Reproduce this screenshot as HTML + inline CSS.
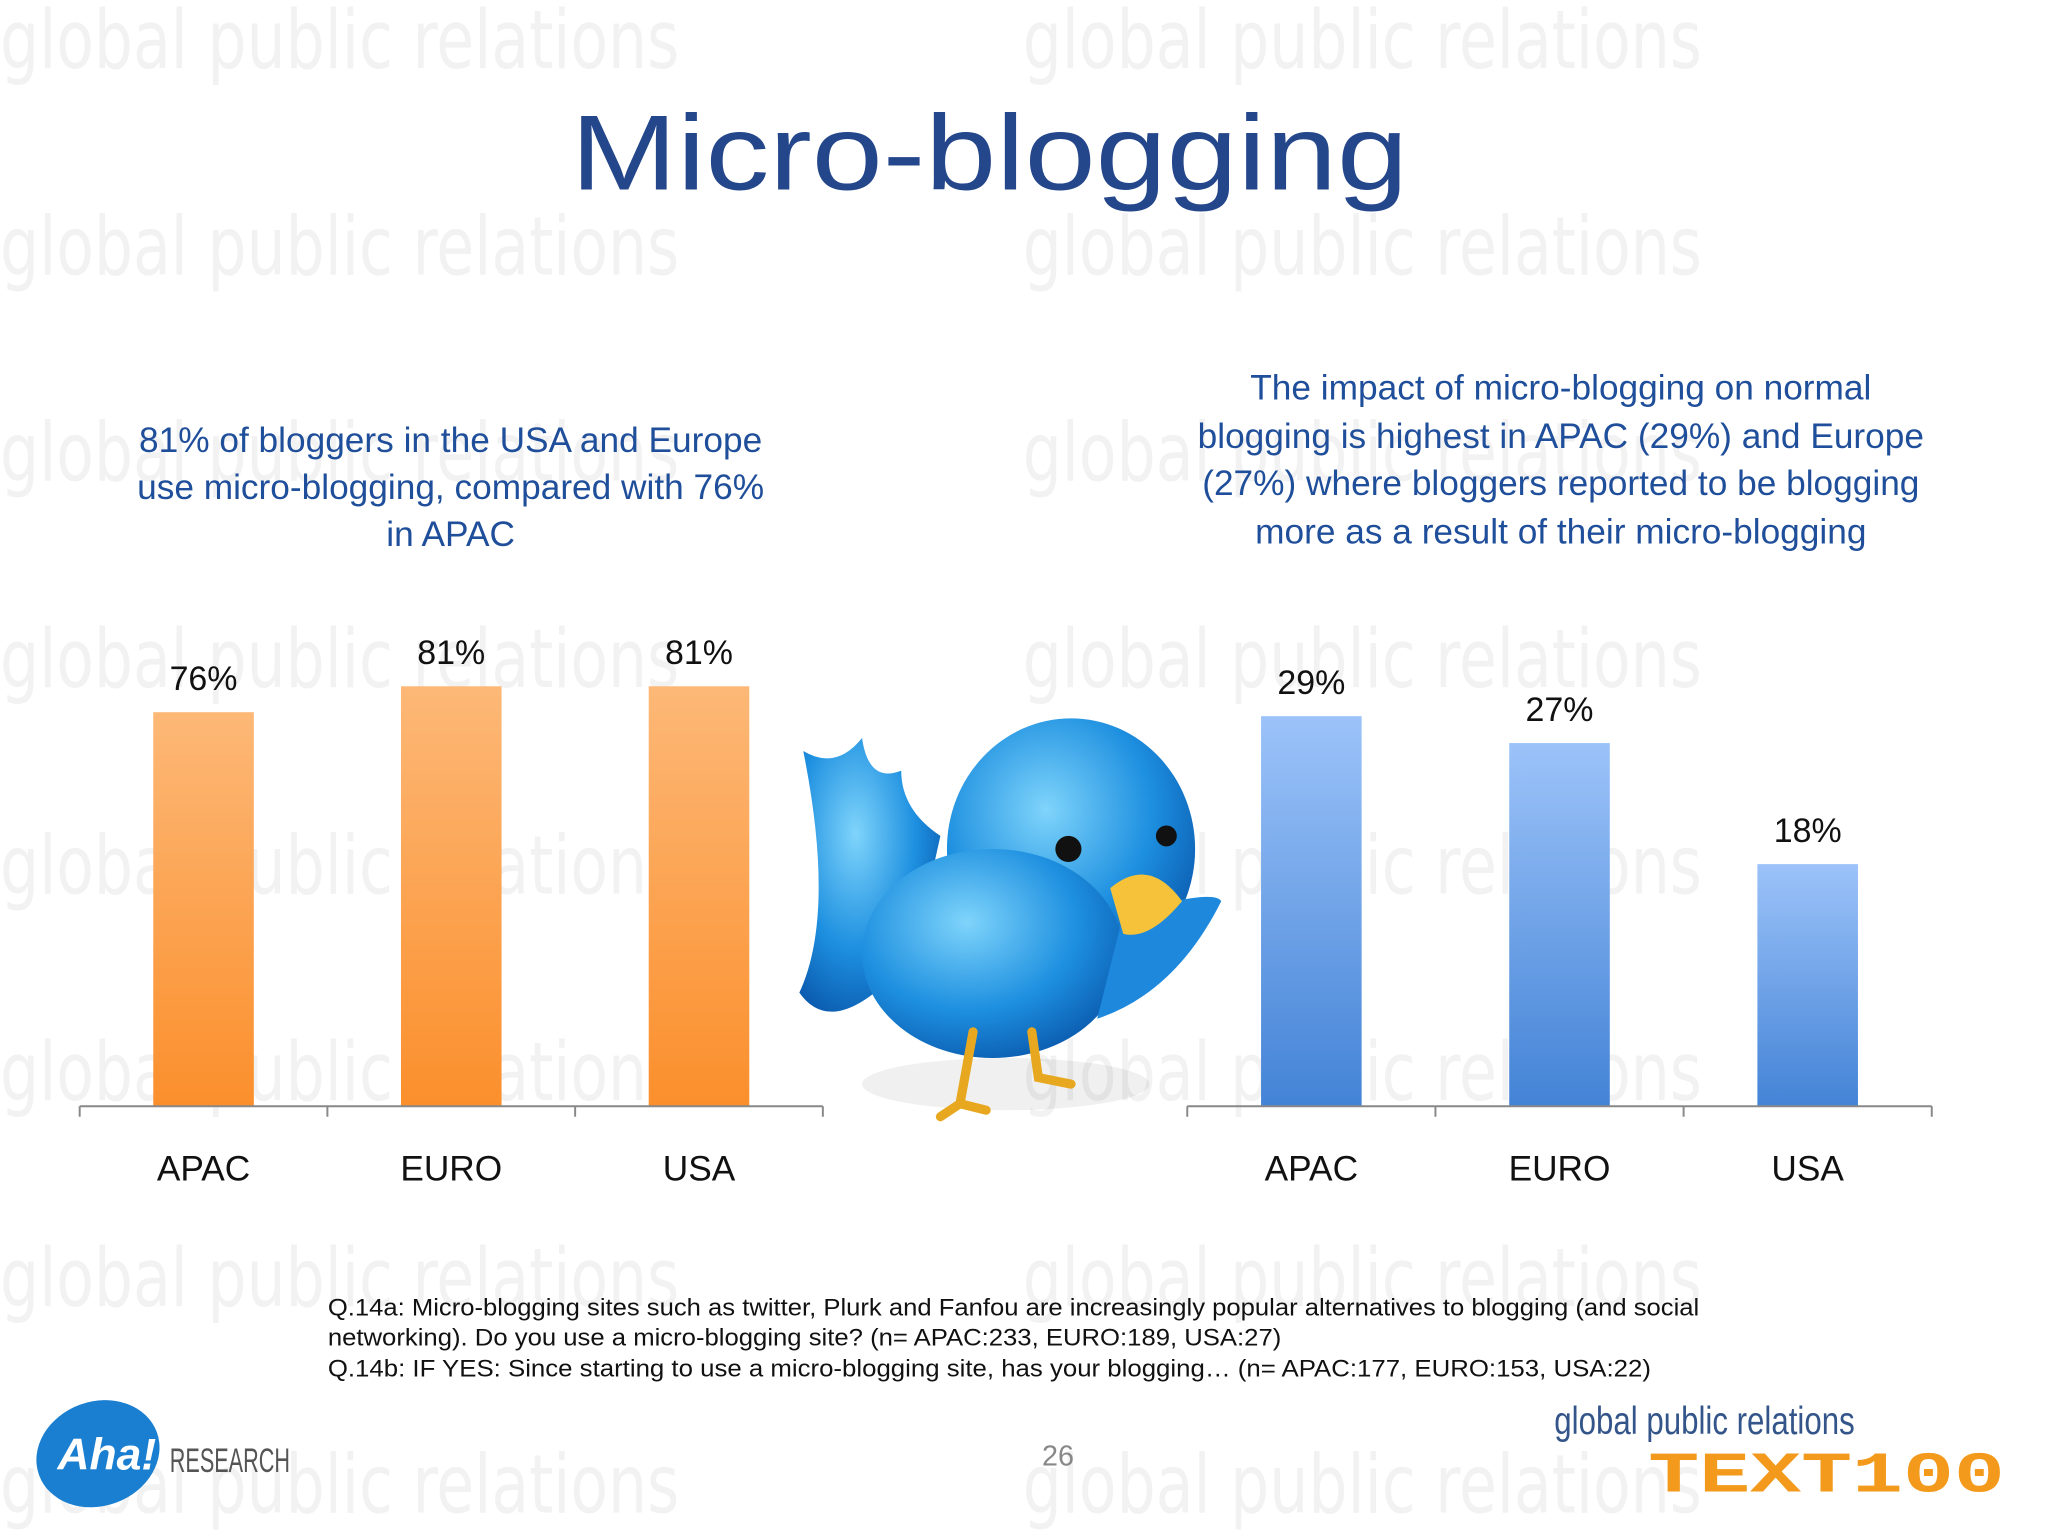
<!DOCTYPE html>
<html><head><meta charset="utf-8"><style>
html,body{margin:0;padding:0;background:#fff}
svg{display:block}
</style></head><body>
<svg id="c" width="2048" height="1536" viewBox="0 0 1568 1176" xmlns="http://www.w3.org/2000/svg" font-family="'Liberation Sans', sans-serif">
<defs>
<linearGradient id="og" x1="0" y1="0" x2="0" y2="1"><stop offset="0" stop-color="#fdb877"/><stop offset="1" stop-color="#fb8f2c"/></linearGradient>
<linearGradient id="bg" x1="0" y1="0" x2="0" y2="1"><stop offset="0" stop-color="#9cc3f9"/><stop offset="1" stop-color="#4383d6"/></linearGradient>
<radialGradient id="bird" cx="0.4" cy="0.35" r="0.7"><stop offset="0" stop-color="#7fd4fb"/><stop offset="0.6" stop-color="#1e90e0"/><stop offset="1" stop-color="#0b5cb0"/></radialGradient>
</defs>
<g id="wm" fill="#f2f2f2" font-family="'DejaVu Sans Condensed','DejaVu Sans',sans-serif" font-weight="200" font-size="62">
<text x="0" y="52" textLength="520" lengthAdjust="spacingAndGlyphs">global public relations</text>
<text x="783" y="52" textLength="520" lengthAdjust="spacingAndGlyphs">global public relations</text>
<text x="0" y="210" textLength="520" lengthAdjust="spacingAndGlyphs">global public relations</text>
<text x="783" y="210" textLength="520" lengthAdjust="spacingAndGlyphs">global public relations</text>
<text x="0" y="368" textLength="520" lengthAdjust="spacingAndGlyphs">global public relations</text>
<text x="783" y="368" textLength="520" lengthAdjust="spacingAndGlyphs">global public relations</text>
<text x="0" y="526" textLength="520" lengthAdjust="spacingAndGlyphs">global public relations</text>
<text x="783" y="526" textLength="520" lengthAdjust="spacingAndGlyphs">global public relations</text>
<text x="0" y="684" textLength="520" lengthAdjust="spacingAndGlyphs">global public relations</text>
<text x="783" y="684" textLength="520" lengthAdjust="spacingAndGlyphs">global public relations</text>
<text x="0" y="842" textLength="520" lengthAdjust="spacingAndGlyphs">global public relations</text>
<text x="783" y="842" textLength="520" lengthAdjust="spacingAndGlyphs">global public relations</text>
<text x="0" y="1000" textLength="520" lengthAdjust="spacingAndGlyphs">global public relations</text>
<text x="783" y="1000" textLength="520" lengthAdjust="spacingAndGlyphs">global public relations</text>
<text x="0" y="1158" textLength="520" lengthAdjust="spacingAndGlyphs">global public relations</text>
<text x="783" y="1158" textLength="520" lengthAdjust="spacingAndGlyphs">global public relations</text>
</g>
<text x="437" y="145" font-size="82" fill="#24468a" textLength="641" lengthAdjust="spacingAndGlyphs">Micro-blogging</text>
<g font-size="27" fill="#1f4e9a" text-anchor="middle">
<text x="345" y="346">81% of bloggers in the USA and Europe</text>
<text x="345" y="382">use micro-blogging, compared with 76%</text>
<text x="345" y="418">in APAC</text>
</g>
<g font-size="27" fill="#1f4e9a" text-anchor="middle">
<text x="1195" y="306">The impact of micro-blogging on normal</text>
<text x="1195" y="343">blogging is highest in APAC (29%) and Europe</text>
<text x="1195" y="379">(27%) where bloggers reported to be blogging</text>
<text x="1195" y="416">more as a result of their micro-blogging</text>
</g>
<g id="charts"></g>
<g>
<ellipse cx="770" cy="830" rx="110" ry="20" fill="#000" opacity="0.06"/>
<path d="M615 575 Q640 590 660 565 Q665 600 690 590 Q690 620 720 640 L700 730 Q640 800 612 760 Q640 700 615 575Z" fill="url(#bird)"/>
<ellipse cx="820" cy="650" rx="95" ry="100" fill="url(#bird)"/>
<ellipse cx="760" cy="730" rx="100" ry="80" fill="url(#bird)"/>
<path d="M860 700 Q930 680 935 690 Q900 760 840 780Z" fill="#1e88dd"/>
<circle cx="818" cy="650" r="10" fill="#111"/><circle cx="893" cy="640" r="8" fill="#111"/>
<path d="M850 680 Q880 655 905 690 Q880 720 860 715Z" fill="#f5c23a"/>
<path d="M745 790 L735 845 M735 845 L720 855 M735 845 L755 850 M790 790 L795 825 L820 830" stroke="#e7a820" stroke-width="7" fill="none" stroke-linecap="round"/>
</g>
<g font-size="18.5" fill="#111">
<text x="251" y="1007" textLength="1050" lengthAdjust="spacingAndGlyphs">Q.14a: Micro-blogging sites such as twitter, Plurk and Fanfou are increasingly popular alternatives to blogging (and social</text>
<text x="251" y="1030" textLength="730" lengthAdjust="spacingAndGlyphs">networking). Do you use a micro-blogging site? (n= APAC:233, EURO:189, USA:27)</text>
<text x="251" y="1054" textLength="1013" lengthAdjust="spacingAndGlyphs">Q.14b: IF YES: Since starting to use a micro-blogging site, has your blogging…  (n= APAC:177, EURO:153, USA:22)</text>
</g>
<text x="810" y="1122" text-anchor="middle" font-size="22" fill="#888">26</text>
<g>
<ellipse cx="75" cy="1113" rx="48" ry="40" fill="#1a7fd0" transform="rotate(-20 75 1113)"/>
<text x="44" y="1125" font-size="34" font-style="italic" font-weight="bold" fill="#fff">Aha!</text>
<text x="130" y="1127" font-size="26" fill="#555" textLength="92" lengthAdjust="spacingAndGlyphs">RESEARCH</text>
</g>
<g>
<text x="1190" y="1098" font-size="30" fill="#34558a" textLength="230" lengthAdjust="spacingAndGlyphs">global public relations</text>
<text x="1262" y="1142" font-size="44" font-weight="bold" fill="#f39a1c" font-family="'Liberation Mono',monospace" textLength="273" lengthAdjust="spacingAndGlyphs">TEXT100</text>
</g>
</svg>
<script>
const cats = ["APAC","EURO","USA"];
const leftVals = [76,81,81];
const rightVals = [29,27,18];
const leftLabels = ["76%","81%","81%"];
const rightLabels = ["29%","27%","18%"];
const NS="http://www.w3.org/2000/svg";
const g=document.getElementById('charts');
function mk(t,a){const e=document.createElementNS(NS,t);for(const k in a)e.setAttribute(k,a[k]);g.appendChild(e);return e;}
function chart(x0,x1,baseY,pxPer,vals,labels,fill,prefix){
  const n=cats.length, step=(x1-x0)/n;
  const xs=i=>x0+step*(i+0.5);
  const ys=v=>baseY-v*pxPer;
  vals.forEach((v,i)=>{
    const r=mk('rect',{x:xs(i)-38.5,y:ys(v),width:77,height:baseY-ys(v),fill:fill});
    
    
    const t=mk('text',{x:xs(i),y:ys(v)-17,'text-anchor':'middle','font-size':26,fill:'#111'});
    t.textContent=labels[i];
    
    
    const c=mk('text',{x:xs(i),y:904,'text-anchor':'middle','font-size':27,fill:'#111'});
    c.textContent=cats[i];
    
    
  });
  const ax=mk('line',{x1:x0,x2:x1,y1:baseY,y2:baseY,stroke:'#888','stroke-width':1.5});
  
  
  for(let i=0;i<=n;i++){
    const tk=mk('line',{x1:x0+step*i,x2:x0+step*i,y1:baseY,y2:baseY+8,stroke:'#888','stroke-width':1.5});
    
    
  }
}
chart(61,630,847,3.97,leftVals,leftLabels,'url(#og)','left');
chart(909,1479,847,10.3,rightVals,rightLabels,'url(#bg)','right');
</script>
</body></html>
